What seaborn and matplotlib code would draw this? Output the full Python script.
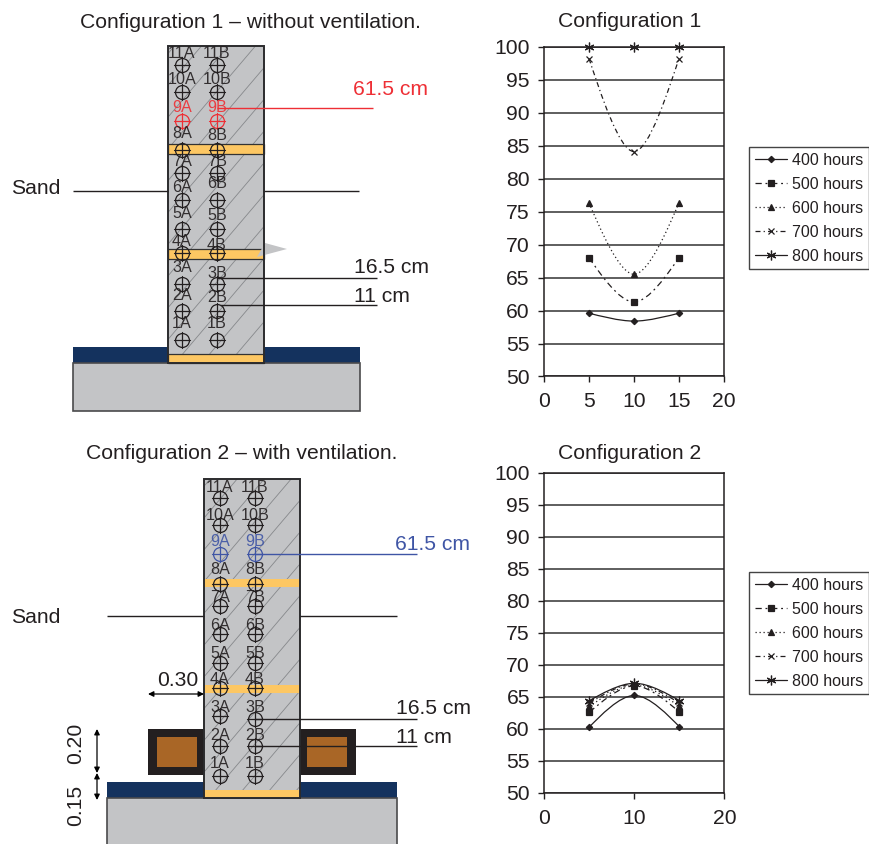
import matplotlib
matplotlib.use("Agg")
import matplotlib.pyplot as plt
import seaborn as sns
from matplotlib.lines import Line2D
from matplotlib.patches import PathPatch, Rectangle, Polygon
from matplotlib.path import Path

sns.set_theme(style="ticks")
plt.rcParams['font.family'] = ['Liberation Sans', 'DejaVu Sans']

W, H = 870, 844
INK = "#231f20"
CONCRETE = "#c3c4c6"
ORANGE = "#fdc763"
NAVY = "#14325e"
BROWN = "#a96626"
RED = "#ee2f35"
BLUE = "#3f55a5"

# chart data
depth = [5, 10, 15]
hours = ["400 hours", "500 hours", "600 hours", "700 hours", "800 hours"]
config1_400 = [59.6, 58.4, 59.6]
config1_500 = [68.0, 61.3, 68.0]
config1_600 = [76.3, 65.5, 76.3]
config1_700 = [98.2, 84.1, 98.2]
config1_800 = [100.0, 100.0, 100.0]
config2_400 = [60.3, 65.2, 60.3]
config2_500 = [62.6, 66.7, 62.6]
config2_600 = [63.5, 66.8, 63.5]
config2_700 = [64.0, 67.0, 64.0]
config2_800 = [64.4, 67.1, 64.4]
y_ticks = [50, 55, 60, 65, 70, 75, 80, 85, 90, 95, 100]
x_ticks1 = [0, 5, 10, 15, 20]
x_ticks2 = [0, 10, 20]

# sensor names and where they sit in the sketches (pixels, top to bottom)
sensor_ids = [11, 10, 9, 8, 7, 6, 5, 4, 3, 2, 1]
sketch1_a_y = [65, 92, 121, 150, 173, 200, 229, 253, 284, 311, 340]
sketch1_b_y = [65, 92, 121, 150, 173, 200, 229, 253, 284, 311, 340]
sketch1_a_lab = [53, 79, 107, 134, 161, 188, 214, 242, 268, 296, 323]
sketch1_b_lab = [53, 79, 107, 136, 162, 184, 216, 246, 273, 298, 324]
sketch2_a_y = [498, 525, 554, 584, 606, 634, 663, 688, 716, 746, 776]
sketch2_b_y = [498, 525, 554, 584, 606, 634, 663, 688, 719, 746, 776]
sketch2_a_lab = [487, 515, 542, 570, 597, 625, 653, 680, 708, 736, 763]
sketch2_b_lab = [487, 515, 542, 570, 597, 625, 653, 680, 708, 736, 763]

marker_list = ["D", "s", "^", "x", (6, 2, 0)]
marker_size = [3.2, 5, 5, 5, 7]
dash_list = ["-", (0, (5, 3, 1.5, 3)), (0, (1, 2.2)), (0, (4, 2.5, 1, 2.5)), "-"]


def pixel_axes(fig, left, top, right, bottom):
    return fig.add_axes([left / W, 1 - bottom / H, (right - left) / W, (bottom - top) / H])


def smooth_path(x, y):
    # excel style smoothed line, flat through the middle point
    dx = (x[2] - x[0]) / 6
    verts = [(x[0], y[0]), (x[0] + dx * 0.7, y[0] + (y[1] - y[0]) / 3), (x[1] - dx, y[1]), (x[1], y[1]),
             (x[1] + dx, y[1]), (x[2] - dx * 0.7, y[2] + (y[1] - y[2]) / 3), (x[2], y[2])]
    codes = [Path.MOVETO] + [Path.CURVE4] * 6
    return Path(verts, codes)


def draw_chart(ax, series, x_ticks):
    for i, values in enumerate(series):
        sns.lineplot(x=depth, y=values, ax=ax, color=INK, marker=marker_list[i], linestyle="",
                     markersize=marker_size[i], markeredgecolor=INK, markeredgewidth=0.9,
                     errorbar=None, clip_on=False, zorder=4)
        ax.add_patch(PathPatch(smooth_path(depth, values), fill=False, edgecolor=INK,
                               linewidth=0.9, linestyle=dash_list[i], zorder=3))
    ax.set_xlim(0, 20)
    ax.set_ylim(50, 100)
    ax.set_xticks(x_ticks)
    ax.set_yticks(y_ticks)
    ax.yaxis.grid(True, color="#333333", linewidth=1.1)
    ax.tick_params(labelsize=15.2, colors=INK, length=4, width=1)
    ax.tick_params(axis="x", pad=7.5)
    ax.tick_params(axis="y", pad=6.5)
    for side in ax.spines:
        ax.spines[side].set_visible(True)
        ax.spines[side].set_color(INK)
        ax.spines[side].set_linewidth(1.1)


def add_legend(fig, top):
    handles = []
    for i in range(len(hours)):
        handles.append(Line2D([], [], color=INK, marker=marker_list[i], linestyle=dash_list[i],
                              markersize=marker_size[i], linewidth=0.9, markeredgewidth=0.9))
    fig.legend(handles, hours, loc="upper left", bbox_to_anchor=(749 / W, 1 - top / H),
               borderaxespad=0, frameon=True, fancybox=False, framealpha=1, edgecolor="#444444",
               fontsize=11.5, handlelength=2.05, handletextpad=0.28, labelspacing=0.56,
               borderpad=0.36, labelcolor=INK)


def add_hatch(ax, rect, left, right, top, bottom):
    # diagonal section lines over the wall, clipped to it
    start = left - (bottom - top)
    while start < right:
        line, = ax.plot([start, start + (bottom - top) * 0.85], [bottom, top],
                        color="#86888b", linewidth=0.6, zorder=2)
        line.set_clip_path(rect)
        start += 27


def add_sensors(ax, col_a, col_b, a_y, b_y, a_lab, b_lab, hilite, size=11.6):
    for i, num in enumerate(sensor_ids):
        colour = hilite if num == 9 else INK
        for col, suffix, ys, labs in ((col_a, "A", a_y, a_lab), (col_b, "B", b_y, b_lab)):
            y = ys[i]
            ax.plot([col], [y], marker="o", markersize=10, markerfacecolor="none",
                    markeredgecolor=colour, markeredgewidth=0.9, zorder=5)
            ax.plot([col - 8, col + 8], [y, y], color=colour, linewidth=0.9, zorder=5)
            ax.plot([col, col], [y - 8, y + 8], color=colour, linewidth=0.9, zorder=5)
            ax.text(col, labs[i], f"{num}{suffix}", ha="center", va="center", fontsize=size,
                    color=colour, alpha=0.9, zorder=6)


def label(ax, x, y, text, colour=INK, **kw):
    ax.text(x, y, text, fontsize=15.2, color=colour, va="center", **kw)


def line(ax, x0, x1, y, colour=INK, lw=1.0):
    ax.plot([x0, x1], [y, y], color=colour, linewidth=lw, zorder=7, solid_capstyle="butt")


def double_arrow(ax, p0, p1):
    ax.annotate("", xy=p1, xytext=p0, zorder=8,
                arrowprops=dict(arrowstyle="<|-|>", color="black", lw=0.9, mutation_scale=8,
                                shrinkA=0, shrinkB=0))


def draw_wall(ax, left, right, top, bottom, slab_left, slab_right, slab_top, base_bottom, bands, outline):
    ax.add_patch(Rectangle((slab_left, slab_top), slab_right - slab_left, bottom - slab_top,
                           facecolor=NAVY, edgecolor="none", zorder=1))
    ax.add_patch(Rectangle((slab_left, bottom), slab_right - slab_left, base_bottom - bottom,
                           facecolor=CONCRETE, edgecolor="#4a4a4c", linewidth=1.2, zorder=1))
    rect = Rectangle((left, top), right - left, bottom - top, facecolor=CONCRETE,
                     edgecolor="none", zorder=1.5)
    ax.add_patch(rect)
    add_hatch(ax, rect, left, right, top, bottom)
    for b_top, b_bot in bands:
        ax.add_patch(Rectangle((left, b_top), right - left, b_bot - b_top, facecolor=ORANGE,
                               edgecolor="#333333" if outline else "none", linewidth=0.9, zorder=3))
    ax.add_patch(Rectangle((left, top), right - left, bottom - top, facecolor="none",
                           edgecolor="#2b2b2d", linewidth=1.4, zorder=4))


fig = plt.figure(figsize=(W / 100, H / 100), dpi=100)

# sketches sit on one axes in pixel units
sketch = fig.add_axes([0, 0, 1, 1])
sketch.set_xlim(0, W)
sketch.set_ylim(H, 0)
sketch.axis("off")

# configuration 1 sketch
label(sketch, 250.5, 22.5, "Configuration 1 – without ventilation.", ha="center")
draw_wall(sketch, 168, 264, 46, 363, 73, 360, 347, 411, [(144, 154), (249, 259), (354, 363)], True)
sketch.add_patch(Polygon([(265, 243), (287, 249), (257, 257)], facecolor=CONCRETE, edgecolor="none", zorder=3.5))
add_sensors(sketch, 182, 217, sketch1_a_y, sketch1_b_y, sketch1_a_lab, sketch1_b_lab, RED)
line(sketch, 217, 373, 107.5, RED)
label(sketch, 353, 89.5, "61.5 cm", RED)
label(sketch, 11, 188.5, "Sand")
line(sketch, 73, 168, 190.5)
line(sketch, 264, 359, 190.5)
line(sketch, 217, 377, 277.5)
label(sketch, 354, 267.5, "16.5 cm")
line(sketch, 220, 377, 304.5)
label(sketch, 354, 296.5, "11 cm")

# configuration 2 sketch
label(sketch, 241.5, 453.5, "Configuration 2 – with ventilation.", ha="center")
draw_wall(sketch, 204, 300, 479, 798, 107, 397, 782, 850, [(579, 587), (685, 693), (790, 798)], False)
for box_left, inner_left in ((148, 157), (300, 307)):
    sketch.add_patch(Rectangle((box_left, 729), 56, 46, facecolor=INK, edgecolor="none", zorder=3))
    sketch.add_patch(Rectangle((inner_left, 737), 40, 30, facecolor=BROWN, edgecolor="none", zorder=3.2))
add_sensors(sketch, 220, 255, sketch2_a_y, sketch2_b_y, sketch2_a_lab, sketch2_b_lab, BLUE)
line(sketch, 255, 417, 554, BLUE)
label(sketch, 395, 544.5, "61.5 cm", BLUE)
label(sketch, 11, 617.5, "Sand")
line(sketch, 107, 204, 616)
line(sketch, 300, 397, 616)
line(sketch, 255, 417, 719)
label(sketch, 396, 708.5, "16.5 cm")
line(sketch, 255, 417, 746)
label(sketch, 396, 737.5, "11 cm")
label(sketch, 157, 680.5, "0.30")
double_arrow(sketch, (148, 694), (204, 694))
double_arrow(sketch, (97, 729), (97, 773))
double_arrow(sketch, (97, 773), (97, 800))
label(sketch, 75.5, 743, "0.20", rotation=90, ha="center")
label(sketch, 75.5, 805, "0.15", rotation=90, ha="center")

# the two charts
ax1 = pixel_axes(fig, 544, 46.7, 724, 376.5)
draw_chart(ax1, [config1_400, config1_500, config1_600, config1_700, config1_800], x_ticks1)
label(sketch, 630, 21.5, "Configuration 1", ha="center")
add_legend(fig, 147)

ax2 = pixel_axes(fig, 544.5, 472.7, 724.5, 792.7)
draw_chart(ax2, [config2_400, config2_500, config2_600, config2_700, config2_800], x_ticks2)
label(sketch, 630, 453.5, "Configuration 2", ha="center")
add_legend(fig, 572)

fig.savefig("out.png", dpi=100)
plt.close(fig)
